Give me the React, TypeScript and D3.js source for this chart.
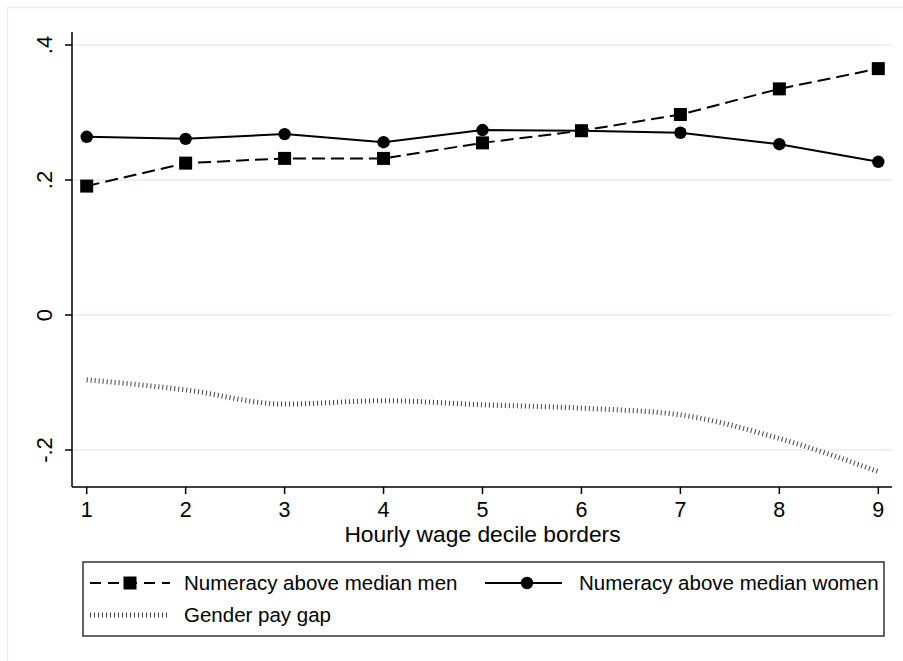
import React from "react";
import * as d3 from "d3";

const deciles = [1, 2, 3, 4, 5, 6, 7, 8, 9];
const menValues = [0.191, 0.225, 0.232, 0.232, 0.255, 0.273, 0.297, 0.335, 0.365];
const womenValues = [0.264, 0.261, 0.268, 0.256, 0.274, 0.273, 0.27, 0.253, 0.227];
const gapValues = [-0.096, -0.111, -0.132, -0.127, -0.133, -0.138, -0.148, -0.183, -0.232];
const yTicks = [-0.2, 0, 0.2, 0.4];
const yTickLabels = ["-.2", "0", ".2", ".4"];
const xTitle = "Hourly wage decile borders";
const legendMen = "Numeracy above median men";
const legendWomen = "Numeracy above median women";
const legendGap = "Gender pay gap";

const W = 903;
const H = 661;
const FONT = "'Liberation Sans', Arial, Helvetica, sans-serif";

export default function App() {
  const x = d3.scaleLinear().domain([1, 9]).range([86.7, 878.3]);
  const y = d3.scaleLinear().domain([-0.2, 0.4]).range([450, 45]);
  const axisLeft = 72;
  const axisRight = 892;
  const axisTop = 32;
  const axisBottom = 487;

  const menLine = d3.line<number>().x((_, i) => x(deciles[i])).y((d) => y(d));
  const womenLine = d3.line<number>().x((_, i) => x(deciles[i])).y((d) => y(d));
  const gapLine = d3
    .line<number>()
    .x((_, i) => x(deciles[i]))
    .y((d) => y(d))
    .curve(d3.curveMonotoneX);

  const gridColor = "#e6eef1";

  return (
    <svg width={W} height={H} style={{ position: "absolute", left: 0, top: 0 }} fontFamily={FONT}>
      <rect x={0} y={0} width={W} height={H} fill="white" />
      <rect x={7.5} y={7.5} width={W} height={H} fill="none" stroke="#e8f0f1" strokeWidth={1.5} />
      {/* gridlines */}
      {yTicks.map((t) => (
        <line key={"g" + t} x1={axisLeft} x2={axisRight} y1={y(t)} y2={y(t)} stroke={gridColor} strokeWidth={1.5} />
      ))}
      {/* axes */}
      <line x1={axisLeft} x2={axisLeft} y1={axisTop} y2={axisBottom} stroke="black" strokeWidth={1.5} />
      <line x1={axisLeft} x2={axisRight} y1={axisBottom} y2={axisBottom} stroke="black" strokeWidth={1.5} />
      {yTicks.map((t, i) => (
        <g key={"yt" + t}>
          <line x1={axisLeft - 7} x2={axisLeft} y1={y(t)} y2={y(t)} stroke="black" strokeWidth={1.5} />
          <text
            transform={`translate(${axisLeft - 20},${y(t)}) rotate(-90)`}
            textAnchor="middle"
            fontSize={22}
            fill="black"
          >
            {yTickLabels[i]}
          </text>
        </g>
      ))}
      {deciles.map((d) => (
        <g key={"xt" + d}>
          <line x1={x(d)} x2={x(d)} y1={axisBottom} y2={axisBottom + 7} stroke="black" strokeWidth={1.5} />
          <text x={x(d)} y={517} textAnchor="middle" fontSize={21.5} fill="black">
            {d}
          </text>
        </g>
      ))}
      <text x={(axisLeft + axisRight) / 2 + 0.5} y={542} textAnchor="middle" fontSize={22.8} fill="black">
        {xTitle}
      </text>

      {/* series */}
      <path d={gapLine(gapValues) || ""} fill="none" stroke="#444" strokeWidth={5} strokeDasharray="1 3" />
      <path d={menLine(menValues) || ""} fill="none" stroke="black" strokeWidth={2} strokeDasharray="13 6" />
      <path d={womenLine(womenValues) || ""} fill="none" stroke="black" strokeWidth={2} />
      {menValues.map((v, i) => (
        <rect key={"m" + i} x={x(deciles[i]) - 6.5} y={y(v) - 6.5} width={13} height={13} fill="black" />
      ))}
      {womenValues.map((v, i) => (
        <circle key={"w" + i} cx={x(deciles[i])} cy={y(v)} r={6.2} fill="black" />
      ))}

      {/* legend */}
      <rect x={83} y={562} width={801} height={74} fill="white" stroke="#333" strokeWidth={1.5} />
      <line x1={90} x2={170} y1={583} y2={583} stroke="black" strokeWidth={2} strokeDasharray="11 7" />
      <rect x={123.5} y={576.5} width={13} height={13} fill="black" />
      <text x={184} y={590} fontSize={20.5} fill="black">{legendMen}</text>
      <line x1={485} x2={562} y1={583} y2={583} stroke="black" strokeWidth={2} />
      <circle cx={527} cy={583} r={6.2} fill="black" />
      <text x={579} y={590} fontSize={20.5} fill="black">{legendWomen}</text>
      <line x1={90} x2={170} y1={615} y2={615} stroke="#444" strokeWidth={5} strokeDasharray="1 3" />
      <text x={184} y={622} fontSize={20.5} fill="black">{legendGap}</text>
    </svg>
  );
}
